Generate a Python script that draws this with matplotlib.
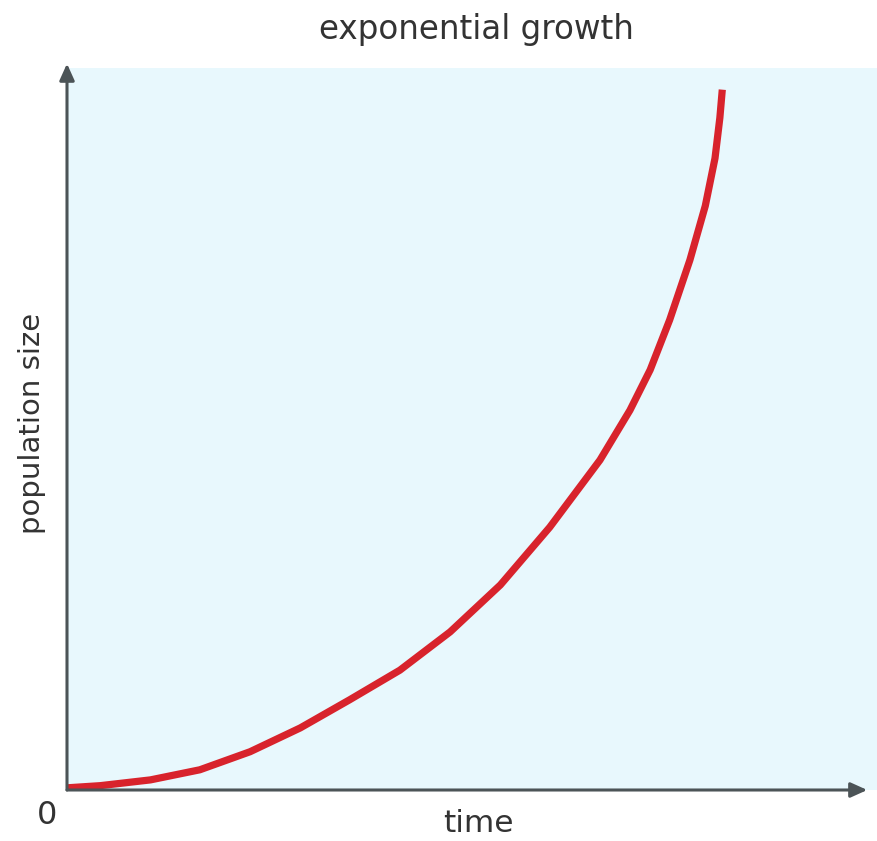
import matplotlib.pyplot as plt
import numpy as np

# curve (time, population size), both on a 0-100 scale
time = [0, 4.1, 10.3, 16.4, 22.6, 28.8, 34.9, 41.1, 47.3, 53.5, 59.6, 65.8,
        69.5, 72.0, 74.4, 76.9, 78.8, 80.0, 80.6, 80.9]
population = [0.3, 0.6, 1.4, 2.8, 5.3, 8.6, 12.5, 16.6, 21.9, 28.4, 36.4, 45.7,
              52.6, 58.2, 65.1, 73.4, 80.9, 87.5, 93.1, 97.0]

title = "exponential growth"
xlabel = "time"
ylabel = "population size"

W, H = 877, 841
fig = plt.figure(figsize=(W / 100, H / 100), dpi=100)

# axes box in pixels: origin (67, 790), top 68, right edge of image
x0, y0, x1, y1 = 67, 790, 877, 68
ax = fig.add_axes([x0 / W, (H - y0) / H, (x1 - x0) / W, (y0 - y1) / H])
ax.set_facecolor("#e8f8fd")
ax.set_xlim(0, 100)
ax.set_ylim(0, 100)
for s in ax.spines.values():
    s.set_visible(False)
ax.set_xticks([])
ax.set_yticks([])

ax.plot(time, population, color="#d8232c", lw=5.2, solid_capstyle="butt",
        solid_joinstyle="round", zorder=3)

# axis arrows
axis_col = "#4c5457"
ax.annotate("", xy=(0.988, 0), xytext=(0, 0), xycoords="axes fraction",
            arrowprops=dict(arrowstyle="-|>,head_length=1.0,head_width=0.45", color=axis_col, lw=2.2,
                            shrinkA=0, shrinkB=0), annotation_clip=False)
ax.annotate("", xy=(0, 1.006), xytext=(0, 0), xycoords="axes fraction",
            arrowprops=dict(arrowstyle="-|>,head_length=1.0,head_width=0.45", color=axis_col, lw=2.2,
                            shrinkA=0, shrinkB=0), annotation_clip=False)

txt = "#333333"
fig.text(476 / W, 1 - 30 / H, title, ha="center", va="center", fontsize=23.5, color=txt)
fig.text(478 / W, 1 - 824 / H, xlabel, ha="center", va="center", fontsize=22.5, color=txt)
fig.text(47 / W, 1 - 815 / H, "0", ha="center", va="center", fontsize=23, color=txt)
fig.text(32 / W, 1 - 423 / H, ylabel, ha="center", va="center", fontsize=21, color=txt, rotation=90)

fig.savefig("out.png", dpi=100, facecolor="white")
